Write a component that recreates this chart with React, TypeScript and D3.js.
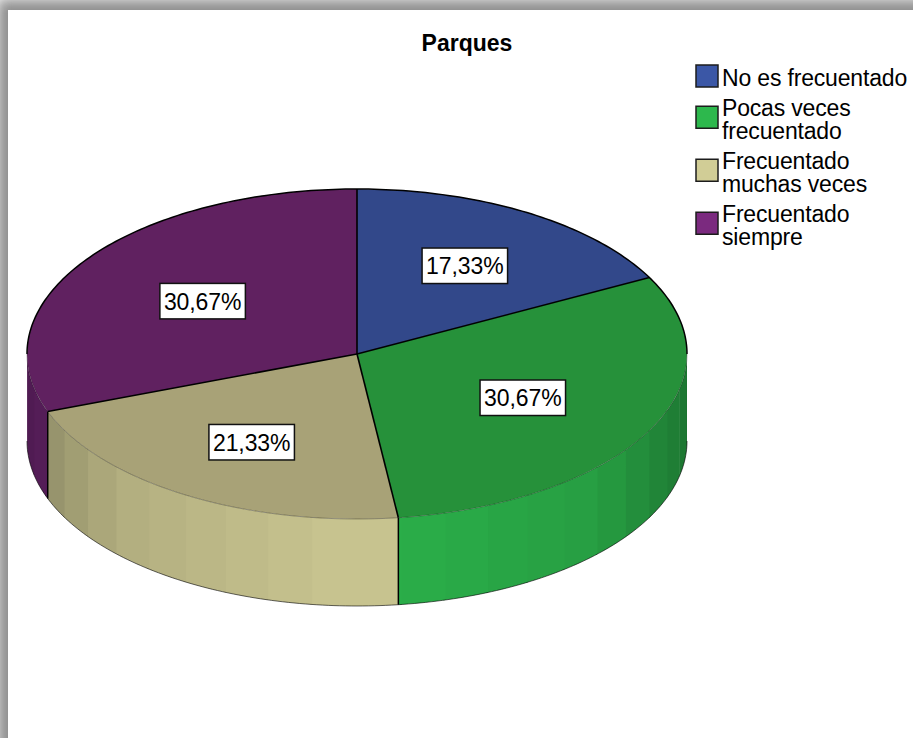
import React from "react"
import * as d3 from "d3"

const title = "Parques"
const categories = ["No es frecuentado", "Pocas veces frecuentado", "Frecuentado muchas veces", "Frecuentado siempre"]
const legendLines = [["No es frecuentado"], ["Pocas veces", "frecuentado"], ["Frecuentado", "muchas veces"], ["Frecuentado", "siempre"]]
const percents = [17.33, 30.67, 21.33, 30.67]
const percentLabels = ["17,33%", "30,67%", "21,33%", "30,67%"]
const colors = ["#3b57a6", "#2db84d", "#d1cd96", "#7b2a7f"]
const topColors = ["#32488a", "#26913a", "#a8a277", "#602160"]

const cx = 357
const cy = 354
const rx = 330
const ry = 165
const depth = 87
const font = "'Liberation Sans', Arial, sans-serif"
const fontSize = 23

// SPSS does not place these quite on the ellipse, so nudge them per slice
const labelNudge = [[1, 0], [-17, -4], [1.5, 0], [15, 6]]

const deg = Math.PI / 180
const facetStep = 7.8 * deg

const pie = d3.pie<number>().value(d => d).sort(null)
const slices = pie(percents)
const arc = d3.arc<d3.PieArcDatum<number>>().innerRadius(0).outerRadius(rx)

const rimPoint = (a: number, dy = 0): [number, number] => [cx + rx * Math.sin(a), cy - ry * Math.cos(a) + dy]
const line = d3.line()

function sampleAngles(a0: number, a1: number) {
  const n = Math.max(2, Math.ceil((a1 - a0) / (1 * deg)))
  return d3.range(n + 1).map(i => a0 + ((a1 - a0) * i) / n)
}

const shade = d3.scaleLinear()
  .domain([90, 110, 135, 180, 225, 250, 270].map(a => a * deg))
  .range([0.62, 0.7, 0.86, 0.96, 0.85, 0.7, 0.62])
const darken = (color: string, k: number) => {
  const c = d3.rgb(color)
  return d3.rgb(c.r * k, c.g * k, c.b * k).formatHex()
}

// wall facets, stepping out from the front of the pie
const facetEdges = d3.range(-12, 13).map(i => 180 * deg + i * facetStep)

function wallFacets(start: number, end: number, color: string) {
  const a0 = Math.max(start, 90 * deg)
  const a1 = Math.min(end, 270 * deg)
  if (a1 <= a0) return []
  const cuts = [a0, ...facetEdges.filter(e => e > a0 && e < a1), a1]
  return d3.pairs(cuts).map(([p, q]) => {
    // run a little under the next facet so no seam shows through
    const over = q < a1 ? Math.min(q + 0.4 * deg, a1) : q
    const top = sampleAngles(p, over).map(a => rimPoint(a))
    const bottom = sampleAngles(p, over).reverse().map(a => rimPoint(a, depth))
    return { d: line([...top, ...bottom]) + "Z", fill: darken(color, shade((p + q) / 2)) }
  })
}

const arcLine = (a0: number, a1: number, dy = 0) => line(sampleAngles(a0, a1).map(a => rimPoint(a, dy))) as string

export default function App() {
  let baseline = 86
  const legend = legendLines.map((lines, i) => {
    const entry = { lines, color: colors[i], name: categories[i], baseline, mid: baseline + (lines.length - 1) * 11.75 - 10 }
    baseline += lines.length * 23.5 + 6
    return entry
  })

  return (
    <svg width={913} height={738} style={{ position: "absolute", left: 0, top: 0, display: "block" }} fontFamily={font}>
      <defs>
        <filter id="frame" x="-5%" y="-5%" width="110%" height="110%">
          <feGaussianBlur stdDeviation="7" />
        </filter>
      </defs>
      <rect width={913} height={738} fill="#ffffff" />
      <rect x={-3} y={-1} width={1000} height={900} fill="#8e8e8e" filter="url(#frame)" />
      <rect x={8} y={10} width={905} height={728} fill="#ffffff" />

      <text x={467} y={50.7} textAnchor="middle" fontSize={23} fontWeight="bold" fill="#000">{title}</text>

      {slices.map((s, i) => wallFacets(s.startAngle, s.endAngle, colors[i]).map((f, j) => (
        <path key={`${i}-${j}`} d={f.d} fill={f.fill} />
      )))}
      <path d={arcLine(90 * deg, 270 * deg, depth)} fill="none" stroke="#000" strokeOpacity={0.6} strokeWidth={1} />
      {slices.filter(s => s.endAngle > 90 * deg && s.endAngle < 270 * deg).map((s, i) => {
        const [x, y] = rimPoint(s.endAngle)
        return <line key={i} x1={x} y1={y} x2={x} y2={y + depth} stroke="#000" strokeWidth={1.5} />
      })}

      <g transform={`translate(${cx},${cy}) scale(1,${ry / rx})`}>
        {slices.map((s, i) => (
          <path key={i} d={arc(s) as string} fill={topColors[i]} />
        ))}
      </g>
      <path d={arcLine(90 * deg, 270 * deg)} fill="none" stroke="#000" strokeOpacity={0.3} strokeWidth={1} />
      <path d={arcLine(-90 * deg, 90 * deg)} fill="none" stroke="#000" strokeWidth={1.5} />
      {slices.map((s, i) => {
        const [x, y] = rimPoint(s.startAngle)
        return <line key={i} x1={cx} y1={cy} x2={x} y2={y} stroke="#000" strokeWidth={1.6} />
      })}

      {slices.map((s, i) => {
        const mid = (s.startAngle + s.endAngle) / 2
        const x = cx + rx * 0.625 * Math.sin(mid) + labelNudge[i][0]
        const y = cy - ry * 0.625 * Math.cos(mid) + labelNudge[i][1]
        return (
          <g key={i}>
            <rect x={x - 42.75} y={y - 17.75} width={85.5} height={35.5} fill="#fff" stroke="#111" strokeWidth={1.5} />
            <text x={x} y={y + 8.5} textAnchor="middle" fontSize={fontSize} letterSpacing={-0.1} fill="#000">{percentLabels[i]}</text>
          </g>
        )
      })}

      {legend.map(e => (
        <g key={e.name}>
          <rect x={696} y={e.mid - 11} width={22} height={22} fill={e.color} stroke="#1c1c1c" strokeWidth={1.5} />
          {e.lines.map((l, j) => (
            <text key={l} x={722} y={e.baseline + j * 23.5} fontSize={fontSize} letterSpacing={-0.17} fill="#000">{l}</text>
          ))}
        </g>
      ))}
    </svg>
  )
}
